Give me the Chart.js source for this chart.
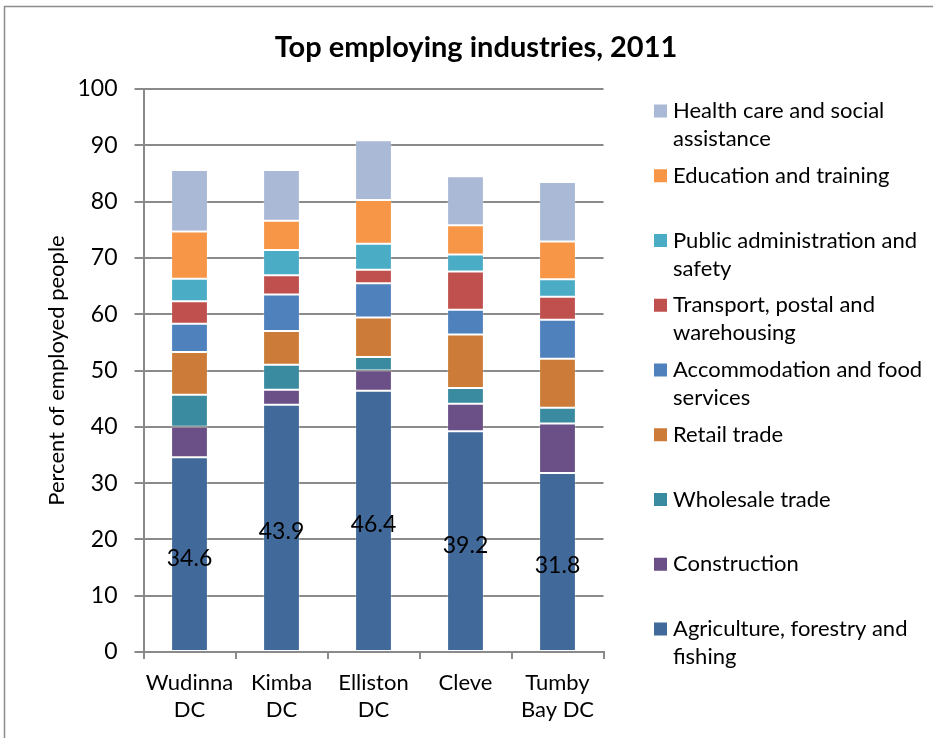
<!DOCTYPE html>
<html>
<head>
<meta charset="utf-8">
<script src="https://cdn.jsdelivr.net/npm/chart.js@4/dist/chart.umd.min.js"></script>
<style>
  body { margin: 0; background: #fff; }
  #wrap { position: relative; width: 933px; height: 738px; }
</style>
</head>
<body>
<div id="wrap"><canvas id="chart" width="933" height="738"></canvas></div>
<script>
const chartTitle = "Top employing industries, 2011";
const councils = [["Wudinna", "DC"], ["Kimba", "DC"], ["Elliston", "DC"], ["Cleve"], ["Tumby", "Bay DC"]];

// industry names, split where the legend wraps
const industries = [
  ["Agriculture, forestry and", "fishing"],
  ["Construction"],
  ["Wholesale trade"],
  ["Retail trade"],
  ["Accommodation and food", "services"],
  ["Transport, postal and", "warehousing"],
  ["Public administration and", "safety"],
  ["Education and training"],
  ["Health care and social", "assistance"],
];

const colours = ["#41699a", "#6a5087", "#3b8ba0", "#cc7c38", "#4f81bd", "#c0504d", "#4bacc6", "#f79646", "#aab9d6"];

// percent of employed people, one array per industry (councils in order)
const agriculture   = [34.6, 43.9, 46.4, 39.2, 31.8];
const construction  = [5.4, 2.7, 3.6, 4.9, 8.8];
const wholesale     = [5.7, 4.4, 2.4, 2.8, 2.8];
const retail        = [7.6, 6.0, 7.0, 9.5, 8.7];
const accommodation = [5.0, 6.5, 6.1, 4.4, 6.9];
const transport     = [4.0, 3.4, 2.4, 6.8, 4.1];
const publicAdmin   = [4.0, 4.5, 4.6, 3.0, 3.1];
const education     = [8.4, 5.2, 7.8, 5.2, 6.7];
const health        = [10.9, 9.0, 10.6, 8.7, 10.6];

const series = [agriculture, construction, wholesale, retail, accommodation, transport, publicAdmin, education, health];

const yTicks = [0, 10, 20, 30, 40, 50, 60, 70, 80, 90, 100];

const FONT = "Lato";
const GRID = "#8a8a8a";

// outer frame and the title, centred on the whole chart object
const framePlugin = {
  id: "frame",
  beforeDraw(chart) {
    const ctx = chart.ctx;
    ctx.save();
    ctx.strokeStyle = "#8c8c8c";
    ctx.lineWidth = 1.5;
    ctx.strokeRect(4.5, 6.5, 1200, 1200);
    ctx.font = `bold 29px ${FONT}`;
    ctx.fillStyle = "#000";
    ctx.textAlign = "center";
    ctx.textBaseline = "middle";
    ctx.fillText(chartTitle, 476, 48);
    ctx.restore();
  },
};

// value labels on the bottom segment of each bar
const valueLabels = {
  id: "valueLabels",
  afterDatasetsDraw(chart) {
    const ctx = chart.ctx;
    const meta = chart.getDatasetMeta(0);
    ctx.save();
    ctx.font = `23px ${FONT}`;
    ctx.fillStyle = "#000";
    ctx.textAlign = "center";
    ctx.textBaseline = "middle";
    meta.data.forEach((bar, i) => {
      const { x, y, base } = bar.getProps(["x", "y", "base"], true);
      ctx.fillText(chart.data.datasets[0].data[i].toFixed(1), x, (y + base) / 2 + 4);
    });
    ctx.restore();
  },
};

// legend on the right, top item first, long names wrapped
const sideLegend = {
  id: "sideLegend",
  afterDraw(chart) {
    const ctx = chart.ctx;
    ctx.save();
    ctx.font = `22px ${FONT}`;
    ctx.textBaseline = "middle";
    const order = chart.data.datasets.map((d, i) => i).reverse();
    order.forEach((di, k) => {
      const ds = chart.data.datasets[di];
      const y = 111 + k * 64.75;
      ctx.fillStyle = ds.backgroundColor;
      ctx.fillRect(654, y - 6.5, 13, 13);
      ctx.fillStyle = "#000";
      ds.lines.forEach((line, j) => ctx.fillText(line, 673, y + j * 28));
    });
    ctx.restore();
  },
};

new Chart(document.getElementById("chart"), {
  type: "bar",
  data: {
    labels: councils,
    datasets: series.map((vals, i) => ({
      label: industries[i].join(" "),
      lines: industries[i],
      data: vals,
      backgroundColor: colours[i],
      borderColor: "rgba(255,255,255,0.25)",
      borderWidth: 1,
      borderSkipped: false,
      barPercentage: 0.4,
      categoryPercentage: 1,
    })),
  },
  options: {
    responsive: false,
    animation: false,
    layout: { padding: { left: 0, right: 329.5, top: 89, bottom: 0 } },
    plugins: {
      legend: { display: false },
      tooltip: { enabled: false },
      title: { display: false },
    },
    scales: {
      x: {
        stacked: true,
        grid: { drawOnChartArea: false, color: GRID, lineWidth: 2, tickLength: 7 },
        border: { color: GRID, width: 2 },
        ticks: {
          color: "#000",
          font: { family: FONT, size: 22, lineHeight: 1.25 },
          padding: 10,
          maxRotation: 0,
          autoSkip: false,
        },
        afterFit: (s) => { s.height = 86; },
      },
      y: {
        stacked: true,
        min: 0,
        max: 100,
        afterBuildTicks: (s) => { s.ticks = yTicks.map((v) => ({ value: v })); },
        grid: { color: GRID, lineWidth: 2, tickLength: 9 },
        border: { color: GRID, width: 2 },
        ticks: {
          color: "#000",
          font: { family: FONT, size: 23 },
          padding: 17,
        },
        title: {
          display: true,
          text: "Percent of employed people",
          color: "#000",
          font: { family: FONT, size: 22, lineHeight: 1.2 },
          padding: { top: 44, bottom: 0 },
        },
        afterFit: (s) => { s.width = 143.5; },
      },
    },
  },
  plugins: [framePlugin, valueLabels, sideLegend],
});
</script>
</body>
</html>
